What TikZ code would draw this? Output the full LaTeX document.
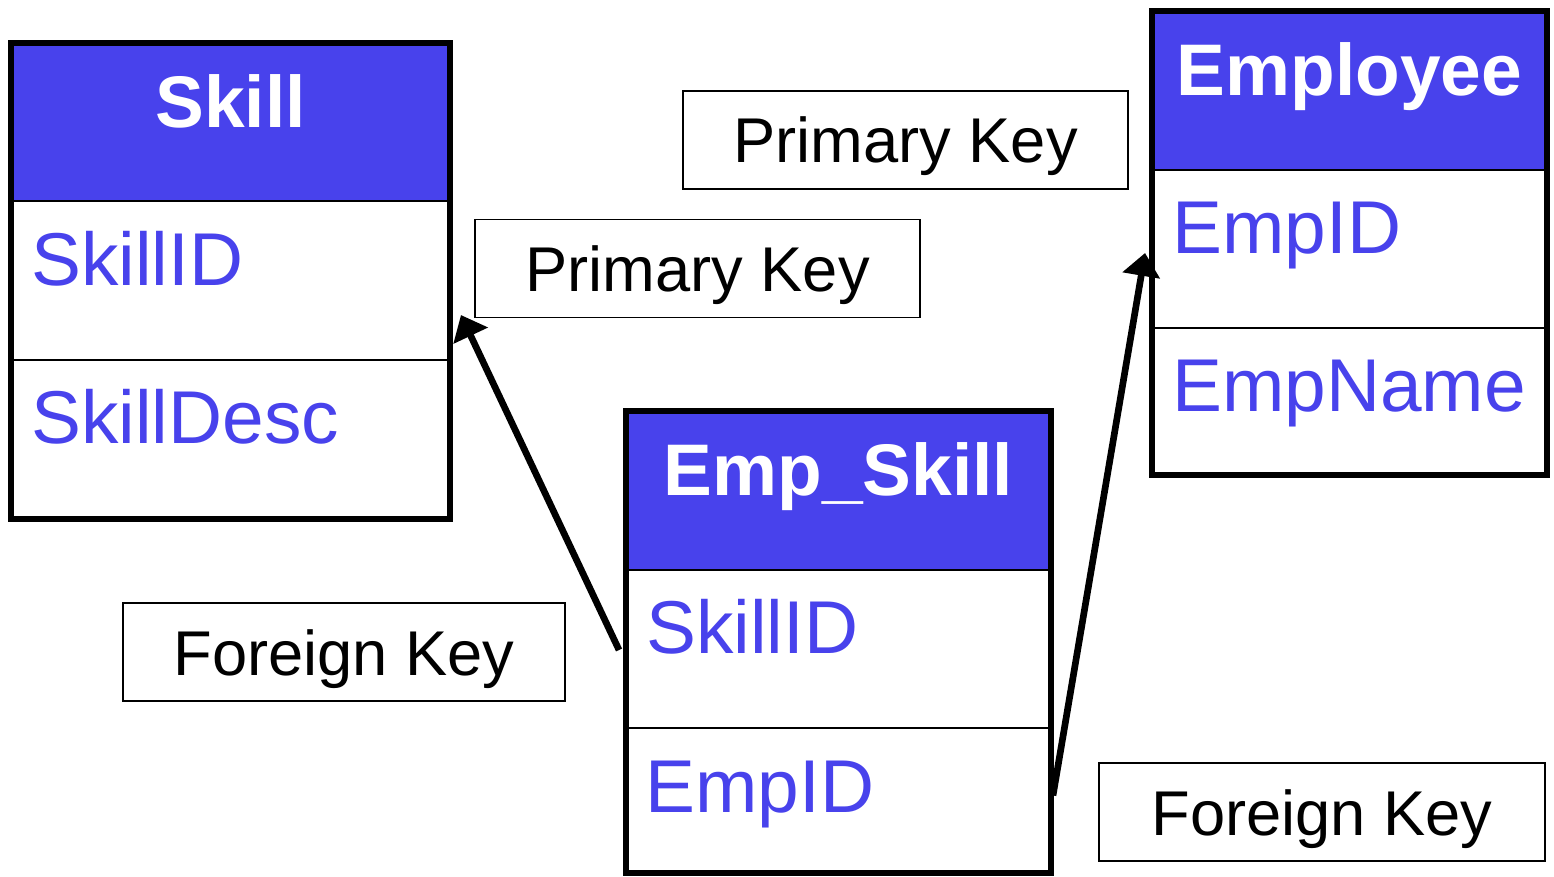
\documentclass[tikz,border=0pt]{standalone}
\usepackage{fontspec}
\setmainfont{Liberation Sans}
\usetikzlibrary{arrows.meta,calc,fit}
\definecolor{hdrblue}{RGB}{72,66,236}
\definecolor{fieldblue}{RGB}{72,66,236}

\tikzset{
  hdrcell/.style={inner sep=0pt, fill=hdrblue, draw=black, line width=1.1pt},
  rowcell/.style={inner sep=0pt, draw=black, line width=1.1pt},
  tableframe/.style={inner sep=0pt, draw=black, line width=3.3pt},
  titletext/.style={inner sep=0pt, text=white, font=\fontsize{41.6}{44}\selectfont\bfseries},
  fieldtext/.style={inner sep=0pt, text=fieldblue, font=\fontsize{42.6}{45}\selectfont},
  keybox/.style={draw=black, line width=1.1pt, inner sep=0pt,
    minimum width=#1, minimum height=1.96cm,
    text height=0.92cm, text depth=0cm,
    font=\fontsize{36}{40}\selectfont},
  conn/.style={line width=3.8pt, -{Triangle[length=13pt,width=21pt]}}
}

\begin{document}
\begin{tikzpicture}[x=0.02cm,y=-0.02cm]
\useasboundingbox (0,0) rectangle (1554,876);

% ---- Skill table ----
\node[hdrcell, fit={(11,43)(450,201)}] (skill-h) {};
\node[rowcell, fit={(11,201)(450,360)}] (skill-r1) {};
\node[rowcell, fit={(11,360)(450,519)}] (skill-r2) {};
\node[tableframe, fit={(11,43)(450,519)}] (skill) {};
\node[titletext, anchor=base] (skill-t) at (230.5,127) {Skill};
\node[fieldtext, anchor=base west] (skill-f1) at (31,285) {SkillID};
\node[fieldtext, anchor=base west] (skill-f2) at (31,443) {SkillDesc};

% ---- Employee table ----
\node[hdrcell, fit={(1152,11)(1547,170)}] (emp-h) {};
\node[rowcell, fit={(1152,170)(1547,328)}] (emp-r1) {};
\node[rowcell, fit={(1152,328)(1547,475)}] (emp-r2) {};
\node[tableframe, fit={(1152,11)(1547,475)}] (emp) {};
\node[titletext, anchor=base] (emp-t) at (1349.5,95) {Employee};
\node[fieldtext, anchor=base west] (emp-f1) at (1172,253) {EmpID};
\node[fieldtext, anchor=base west] (emp-f2) at (1172,411) {EmpName};

% ---- Emp_Skill table ----
\node[hdrcell, fit={(626,411)(1051,570)}] (esk-h) {};
\node[rowcell, fit={(626,570)(1051,728)}] (esk-r1) {};
\node[rowcell, fit={(626,728)(1051,873)}] (esk-r2) {};
\node[tableframe, fit={(626,411)(1051,873)}] (esk) {};
\node[titletext, anchor=base] (esk-t) at (838.5,495) {Emp\_Skill};
\node[fieldtext, anchor=base west] (esk-f1) at (646,653) {SkillID};
\node[fieldtext, anchor=base west] (esk-f2) at (645,812) {EmpID};

% ---- key labels ----
\node[keybox=8.9cm] (pk1) at (905.5,140) {Primary Key};
\node[keybox=8.9cm] (pk2) at (697.5,268.5) {Primary Key};
\node[keybox=8.84cm] (fk1) at (344,652) {Foreign Key};
\node[keybox=8.92cm] (fk2) at (1322,812) {Foreign Key};

% ---- foreign key references ----
\draw[conn] ($(esk-r1.west)+(-6,1)$) -- ($(skill-r1.north east)+(10,115)$);
\draw[conn] ($(esk-r2.east)+(1,-5)$) -- ($(emp-r1.west)+(-6,4)$);
\end{tikzpicture}
\end{document}
